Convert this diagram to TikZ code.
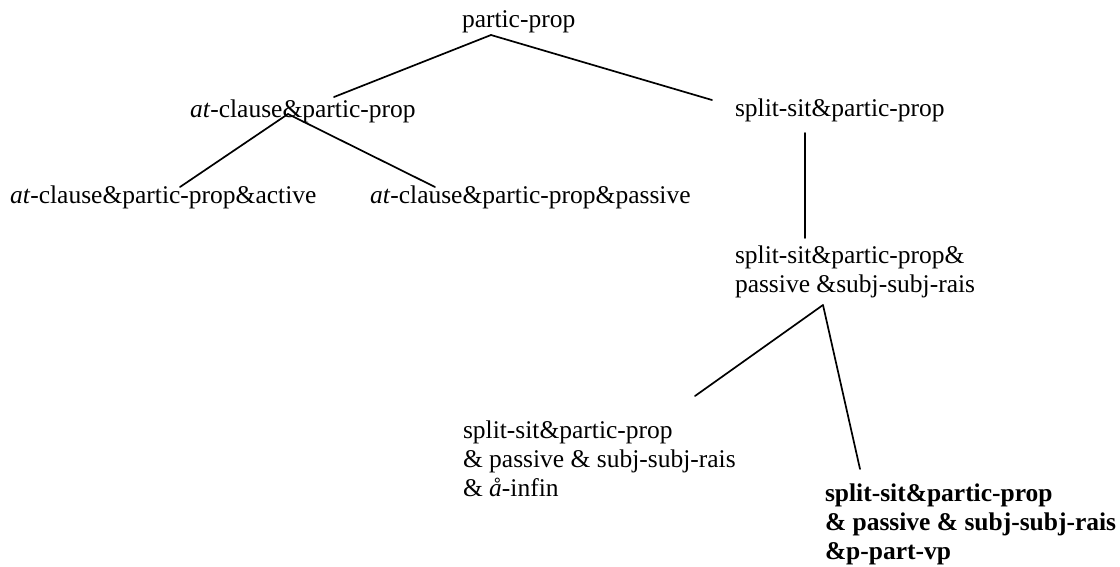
\documentclass[tikz,border=0pt]{standalone}
\usepackage{fontspec}
\setmainfont{Liberation Serif}
\begin{document}
\begin{tikzpicture}[x=1pt,y=-1pt,
  lbl/.style={inner sep=0pt, outer sep=0pt, anchor=base west, font=\fontsize{25.5}{29.3}\selectfont},
  branch/.style={line width=1.7pt, line cap=round}]
\useasboundingbox (0,0) rectangle (1120,566);
% nodes
\node[lbl] (root) at (462,27) {partic-prop};
\node[lbl] (atc) at (190,117) {\textit{at}-clause\&partic-prop};
\node[lbl] (ssp) at (735,116) {split-sit\&partic-prop};
\node[lbl] (atca) at (10,203) {\textit{at}-clause\&partic-prop\&active};
\node[lbl] (atcp) at (370,203) {\textit{at}-clause\&partic-prop\&passive};
\node[lbl] (sspp) at (735,263) {\begin{tabular}[t]{@{}l@{}}split-sit\&partic-prop\&\\passive \&subj-subj-rais\end{tabular}};
\node[lbl] (infin) at (463,438) {\begin{tabular}[t]{@{}l@{}}split-sit\&partic-prop\\\& passive \& subj-subj-rais\\\& \textit{å}-infin\end{tabular}};
\node[lbl] (ppart) at (825,501) {\bfseries\begin{tabular}[t]{@{}l@{}}split-sit\&partic-prop\\\& passive \& subj-subj-rais\\\&p-part-vp\end{tabular}};
% connector end points
\coordinate (rootB) at (491,35);
\coordinate (atcT) at (334,97);
\coordinate (sspT) at (712,100);
\coordinate (atcB) at (288,114);
\coordinate (atcaT) at (180,187);
\coordinate (atcpT) at (435,187);
\coordinate (sspB) at (805,133);
\coordinate (ssppT) at (805,238);
\coordinate (ssppB) at (823,305);
\coordinate (infinT) at (695,396);
\coordinate (ppartT) at (860,469);
% connectors
\draw[branch] (rootB) -- (atcT);
\draw[branch] (rootB) -- (sspT);
\draw[branch] (atcB) -- (atcaT);
\draw[branch] (atcB) -- (atcpT);
\draw[branch] (sspB) -- (ssppT);
\draw[branch] (ssppB) -- (infinT);
\draw[branch] (ssppB) -- (ppartT);
\end{tikzpicture}
\end{document}
